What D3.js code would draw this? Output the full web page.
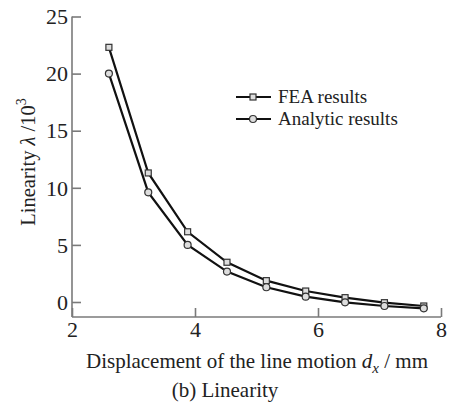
<!DOCTYPE html>
<html>
<head>
<meta charset="utf-8">
<script src="https://cdn.jsdelivr.net/npm/d3@7"></script>
<style>
  body { margin: 0; background: #fff; }
  text { font-family: "Liberation Serif", "Times New Roman", serif; fill: #222; }
</style>
</head>
<body>
<div id="chart"></div>
<script>
// Data
const dx = [2.6, 3.24, 3.88, 4.52, 5.16, 5.8, 6.44, 7.08, 7.72];
const feaResults = [22.3, 11.3, 6.15, 3.48, 1.87, 0.96, 0.38, -0.06, -0.35];
const analyticResults = [20.0, 9.6, 5.0, 2.66, 1.29, 0.47, -0.03, -0.35, -0.55];
const xTicks = [2, 4, 6, 8];
const yTicks = [0, 5, 10, 15, 20, 25];

const width = 452;
const height = 403;

const svg = d3.select("#chart")
    .append("svg")
    .attr("width", width)
    .attr("height", height);

// Scales
const x = d3.scaleLinear().domain([2, 8]).range([72, 441]);
const y = d3.scaleLinear().domain([0, 25]).range([302, 16.5]);
const yBottom = 317;

const axisColor = "#7a7a7a";

// Axes (ticks pointing inward)
const xAxis = svg.append("g")
    .attr("transform", `translate(0,${yBottom})`)
    .call(d3.axisBottom(x).tickValues(xTicks).tickSize(-9).tickPadding(4).tickFormat(d3.format("d")));
xAxis.select(".domain").attr("d", `M${x(2)},0H${x(8)}`);

const yAxis = svg.append("g")
    .attr("transform", `translate(${x(2)},0)`)
    .call(d3.axisLeft(y).tickValues(yTicks).tickSize(-9).tickPadding(4).tickFormat(d3.format("d")));
yAxis.select(".domain").attr("d", `M0,${y(25)}V${yBottom}`);

svg.selectAll(".domain, .tick line")
    .attr("stroke", axisColor)
    .attr("stroke-width", 1.6);
svg.selectAll(".tick text")
    .style("font-size", "22px")
    .style("font-family", "'Liberation Serif', serif")
    .attr("fill", "#333");
yAxis.selectAll(".tick text").attr("dy", "0.33em");
xAxis.selectAll(".tick text").attr("dy", "0.71em");

// Lines
const line = d3.line()
    .x((d, i) => x(dx[i]))
    .y(d => y(d));

const series = [
    { name: "FEA results", values: feaResults, marker: "square" },
    { name: "Analytic results", values: analyticResults, marker: "circle" }
];

series.forEach(s => {
    svg.append("path")
        .datum(s.values)
        .attr("fill", "none")
        .attr("stroke", "#111")
        .attr("stroke-width", 2.2)
        .attr("d", line);

    if (s.marker === "square") {
        svg.selectAll(null)
            .data(s.values)
            .enter()
            .append("rect")
            .attr("x", (d, i) => x(dx[i]) - 3)
            .attr("y", d => y(d) - 3)
            .attr("width", 6)
            .attr("height", 6)
            .attr("fill", "#ddd")
            .attr("stroke", "#333")
            .attr("stroke-width", 1.2);
    } else {
        svg.selectAll(null)
            .data(s.values)
            .enter()
            .append("circle")
            .attr("cx", (d, i) => x(dx[i]))
            .attr("cy", d => y(d))
            .attr("r", 3.5)
            .attr("fill", "#ddd")
            .attr("stroke", "#333")
            .attr("stroke-width", 1.2);
    }
});

// Legend
const legend = svg.append("g");
series.forEach((s, i) => {
    const ly = 97 + i * 22;
    legend.append("line")
        .attr("x1", 236).attr("x2", 271)
        .attr("y1", ly).attr("y2", ly)
        .attr("stroke", "#111").attr("stroke-width", 2.2);
    if (s.marker === "square") {
        legend.append("rect")
            .attr("x", 250).attr("y", ly - 3)
            .attr("width", 6).attr("height", 6)
            .attr("fill", "#ddd").attr("stroke", "#333").attr("stroke-width", 1.2);
    } else {
        legend.append("circle")
            .attr("cx", 253).attr("cy", ly).attr("r", 3.5)
            .attr("fill", "#ddd").attr("stroke", "#333").attr("stroke-width", 1.2);
    }
    legend.append("text")
        .attr("x", 278).attr("y", ly)
        .attr("dy", "0.33em")
        .style("font-size", "19px")
        .text(s.name);
});

// Axis titles
const xTitle = svg.append("text")
    .attr("x", 257).attr("y", 368)
    .attr("text-anchor", "middle")
    .style("font-size", "21px");
xTitle.append("tspan").text("Displacement of the line motion  ");
xTitle.append("tspan").style("font-style", "italic").text("d");
xTitle.append("tspan").style("font-style", "italic").style("font-size", "15px").attr("dy", 5).text("x");
xTitle.append("tspan").attr("dy", -5).text(" / mm");

const yTitle = svg.append("text")
    .attr("transform", "translate(35,162) rotate(-90)")
    .attr("text-anchor", "middle")
    .style("font-size", "20.5px");
yTitle.append("tspan").text("Linearity ");
yTitle.append("tspan").style("font-style", "italic").text("λ");
yTitle.append("tspan").text(" /10");
yTitle.append("tspan").style("font-size", "14px").attr("dy", -9).text("3");

// Caption
svg.append("text")
    .attr("x", 225).attr("y", 397)
    .attr("text-anchor", "middle")
    .style("font-size", "21px")
    .text("(b) Linearity");
</script>
</body>
</html>
